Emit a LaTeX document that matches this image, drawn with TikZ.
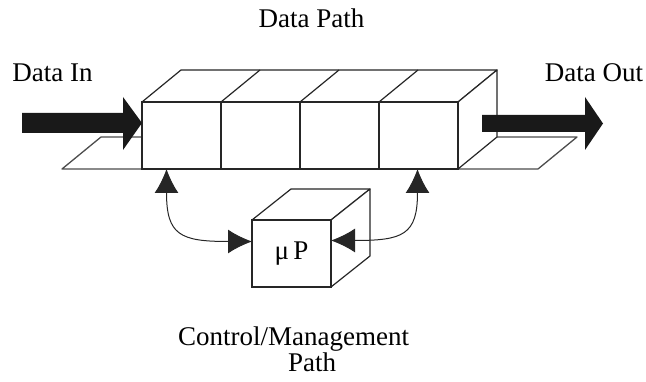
\documentclass[tikz,border=0pt]{standalone}
\usepackage{fontspec}
\setmainfont{Liberation Serif}
\usetikzlibrary{arrows.meta}
\begin{document}
\begin{tikzpicture}[x=1pt,y=1pt,
  edge/.style={line width=1.2pt, draw=black!85, line join=round},
  planeline/.style={line width=1.3pt, draw=black!70, line join=round},
  cell/.style={draw=black!85, line width=1.2pt, fill=white,
    minimum width=79pt, minimum height=67pt, inner sep=0pt, outer sep=0pt},
  txt/.style={font=\fontsize{27}{30}\selectfont, inner sep=0pt},
  link/.style={line width=1pt, draw=black!85,
    {Latex[length=24pt,width=24pt]}-{Latex[length=24pt,width=24pt]}},
  bigarrow/.style={fill=black!90, draw=none}
]
\useasboundingbox (0,0) rectangle (646,-382);

% base plane under the data path
\draw[planeline] (62,-169) -- (538,-169) -- (577,-137) -- (101,-137) -- cycle;

% data path: top face, right face, top dividers
\filldraw[edge, fill=white] (142,-102) -- (181,-70) -- (497,-70) -- (458,-102) -- cycle;
\filldraw[edge, fill=white] (458,-102) -- (497,-70) -- (497,-137) -- (458,-169) -- cycle;
\draw[edge] (221,-102) -- (260,-70);
\draw[edge] (300,-102) -- (339,-70);
\draw[edge] (379,-102) -- (418,-70);

% data path cells (front face)
\node[cell] (c1) at (181.5,-135.5) {};
\node[cell] (c2) at (260.5,-135.5) {};
\node[cell] (c3) at (339.5,-135.5) {};
\node[cell] (c4) at (418.5,-135.5) {};

% input and output arrows
\coordinate (inTail) at (22,-123);
\coordinate (inTip) at (142,-123);
\fill[bigarrow] ([yshift=10pt]inTail) -- ++(101,0) -- ++(0,16) -- (inTip)
  -- ([xshift=-19pt,yshift=-27pt]inTip) -- ++(0,17) -- ([yshift=-10pt]inTail) -- cycle;
\coordinate (outTail) at (482,-123.5);
\coordinate (outTip) at (603,-123.5);
\fill[bigarrow] ([yshift=8.5pt]outTail) -- ++(103,0) -- ++(0,18) -- (outTip)
  -- ([xshift=-18pt,yshift=-26.5pt]outTip) -- ++(0,18) -- ([yshift=-8.5pt]outTail) -- cycle;

% microprocessor cube
\filldraw[edge, fill=white] (252,-220) -- (291,-189) -- (370,-189) -- (331,-220) -- cycle;
\filldraw[edge, fill=white] (331,-220) -- (370,-189) -- (370,-256) -- (331,-287) -- cycle;
\node[cell, txt, inner sep=0pt] (mp) at (291.5,-253.5) {μ\,P};

% control links
\draw[link] ([xshift=-15pt]c1.south) .. controls +(0,-66) and +(-72,0) .. ([yshift=12pt]mp.west);
\draw[link] ([xshift=-1pt]c4.south) .. controls +(0,-66) and +(72,0) .. ([yshift=13pt]mp.east);

% labels
\node[txt, anchor=base] (dp) at (311.5,-28) {Data Path};
\node[txt, anchor=base] (din) at (52.5,-82) {Data In};
\node[txt, anchor=base] (dout) at (594,-82) {Data Out};
\node[txt, anchor=base] (ctl) at (293.5,-345) {Control/Management};
\node[txt, anchor=base] (ctlpath) at (312,-372) {Path};
\end{tikzpicture}
\end{document}
